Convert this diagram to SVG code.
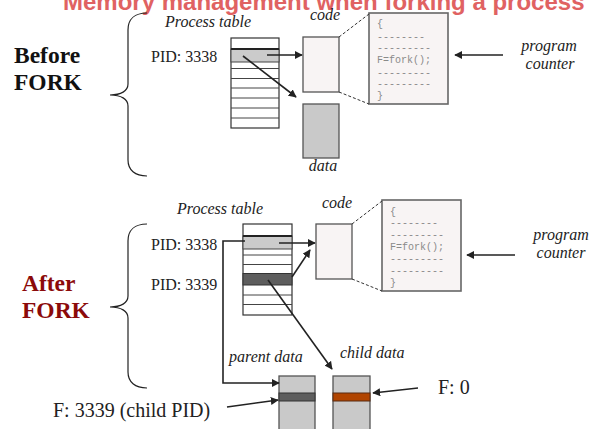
<svg xmlns="http://www.w3.org/2000/svg" width="592" height="429" viewBox="0 0 592 429">
<defs>
<style>
.title{font-family:"Liberation Sans",Arial,sans-serif;font-weight:bold;font-size:24px;fill:#e06262}
.it{font-family:"Liberation Serif","Times New Roman",serif;font-style:italic;font-size:16px;fill:#222}
.pid{font-family:"Liberation Serif","Times New Roman",serif;font-size:16px;fill:#222}
.big{font-family:"Liberation Serif","Times New Roman",serif;font-weight:bold;font-size:23.5px}
.fv{font-family:"Liberation Serif","Times New Roman",serif;font-size:20px;fill:#222}
.code{font-family:"Liberation Mono","Courier New",monospace;font-size:10px;fill:#8a8a8a}
.brace{fill:none;stroke:#222;stroke-width:1.2}
.tbl{fill:#fff;stroke:#333;stroke-width:1.2}
.row{stroke:#444;stroke-width:1}
.lite{fill:#cbcbcb;stroke:#444;stroke-width:1}
.dark{fill:#5e5e5e;stroke:#333;stroke-width:1}
.codebox{fill:#f8f4f4;stroke:#555;stroke-width:1.3}
.list{fill:#f8f4f4;stroke:#666;stroke-width:1.6}
.databox{fill:#c9c9c9;stroke:#555;stroke-width:1.3}
.dash{stroke:#333;stroke-width:1;stroke-dasharray:3 2;fill:none}
.arr{stroke:#222;stroke-width:1.6;fill:none;marker-end:url(#ah)}
.ln{stroke:#222;stroke-width:1.6;fill:none}
</style>
<marker id="ah" viewBox="0 0 10 10" refX="9" refY="5" markerWidth="5" markerHeight="5" orient="auto" markerUnits="strokeWidth">
<path d="M0,0 L10,5 L0,10 z" fill="#222"/>
</marker>
</defs>

<text class="title" x="63" y="10">Memory management when forking a process</text>

<!-- BEFORE section -->
<g id="before-label">
<text class="big" x="14" y="63" fill="#111">Before</text>
<text class="big" x="14" y="90" fill="#111">FORK</text>
<path class="brace" d="M147,13 C135,13 128,19 128,30 L128,84 C128,91 121,95 110,95 C121,95 128,99 128,106 L128,160 C128,170 135,176 147,176"/>
</g>

<g id="before-table">
<text class="it" x="208" y="27" text-anchor="middle">Process table</text>
<text class="pid" x="151" y="62">PID: 3338</text>
<rect class="tbl" x="231" y="38" width="48" height="90"/>
<rect class="lite" x="231" y="49" width="48" height="13"/>
<line x1="231" y1="49" x2="279" y2="49" stroke="#222" stroke-width="2"/>
<line class="row" x1="231" y1="68.5" x2="279" y2="68.5"/>
<line class="row" x1="231" y1="78.5" x2="279" y2="78.5"/>
<line class="row" x1="231" y1="88" x2="279" y2="88"/>
<line class="row" x1="231" y1="98" x2="279" y2="98"/>
<line class="row" x1="231" y1="108" x2="279" y2="108"/>
<line class="row" x1="231" y1="118" x2="279" y2="118"/>
</g>

<g id="before-code">
<text class="it" x="325" y="20" text-anchor="middle">code</text>
<rect class="codebox" x="303" y="37" width="36" height="55"/>
</g>

<g id="before-data">
<rect class="databox" x="303" y="104" width="36" height="54"/>
<text class="it" x="323" y="171" text-anchor="middle">data</text>
</g>

<g id="before-listing">
<rect class="list" x="369" y="13" width="79" height="91"/>
<text class="code" x="377" y="27">{</text>
<text class="code" x="377" y="40">--------</text>
<text class="code" x="377" y="51">---------</text>
<text class="code" x="377" y="63">F=fork();</text>
<text class="code" x="377" y="76">---------</text>
<text class="code" x="377" y="87">---------</text>
<text class="code" x="377" y="99">}</text>
</g>

<g id="before-pc">
<text class="it" x="549" y="51" text-anchor="middle" font-size="15.5">program</text>
<text class="it" x="550" y="69" text-anchor="middle" font-size="15.5">counter</text>
</g>

<!-- AFTER section -->
<g id="after-label">
<text class="big" x="22" y="291" fill="#8b0a0a">After</text>
<text class="big" x="22" y="318" fill="#8b0a0a">FORK</text>
<path class="brace" d="M147,224 C135,224 128,230 128,241 L128,296 C128,303 121,307 110,307 C121,307 128,311 128,318 L128,372 C128,382 135,388 147,388"/>
</g>

<g id="after-table">
<text class="it" x="220" y="214" text-anchor="middle">Process table</text>
<text class="pid" x="151" y="250">PID: 3338</text>
<text class="pid" x="151" y="290">PID: 3339</text>
<rect class="tbl" x="243" y="224" width="49" height="91"/>
<rect class="lite" x="243" y="236" width="49" height="13"/>
<line x1="243" y1="236" x2="292" y2="236" stroke="#222" stroke-width="2"/>
<line class="row" x1="243" y1="255" x2="292" y2="255"/>
<line class="row" x1="243" y1="264.5" x2="292" y2="264.5"/>
<rect class="dark" x="243" y="273.5" width="49" height="11.5"/>
<line class="row" x1="243" y1="295" x2="292" y2="295"/>
<line class="row" x1="243" y1="304.5" x2="292" y2="304.5"/>
</g>

<g id="after-code">
<text class="it" x="337" y="208" text-anchor="middle">code</text>
<rect class="codebox" x="316" y="224" width="36" height="55"/>
</g>

<g id="after-listing">
<rect class="list" x="382" y="200" width="79" height="91"/>
<text class="code" x="390" y="215">{</text>
<text class="code" x="390" y="226">--------</text>
<text class="code" x="390" y="238">---------</text>
<text class="code" x="390" y="250">F=fork();</text>
<text class="code" x="390" y="262">---------</text>
<text class="code" x="390" y="274">---------</text>
<text class="code" x="390" y="286">}</text>
</g>

<g id="after-pc">
<text class="it" x="561" y="240" text-anchor="middle" font-size="15.5">program</text>
<text class="it" x="561" y="258" text-anchor="middle" font-size="15.5">counter</text>
</g>

<g id="parent-data">
<text class="it" x="229" y="362">parent data</text>
<rect class="databox" x="279" y="376" width="36" height="60"/>
<rect class="dark" x="279" y="393" width="36" height="8"/>
</g>

<g id="child-data">
<text class="it" x="340" y="358">child data</text>
<rect class="databox" x="333" y="376" width="37" height="60"/>
<rect x="333" y="393" width="37" height="8" fill="#b04400" stroke="#5a2a10" stroke-width="1"/>
</g>

<g id="f-child">
<text class="fv" x="53" y="417">F: 3339 (child PID)</text>
</g>
<g id="f-zero">
<text class="fv" x="438" y="394">F: 0</text>
</g>

<!-- connectors -->
<g id="connectors">
<line class="arr" x1="267" y1="55" x2="302" y2="55"/>
<line class="arr" x1="243" y1="56" x2="296" y2="97"/>
<line class="dash" x1="339" y1="37" x2="369" y2="14"/>
<line class="dash" x1="339" y1="92" x2="369" y2="104"/>
<line class="arr" x1="503" y1="55" x2="455" y2="55"/>

<line class="arr" x1="279" y1="243" x2="315" y2="243"/>
<line class="arr" x1="292" y1="277" x2="310" y2="250"/>
<line class="arr" x1="268" y1="280" x2="332" y2="369"/>
<polyline class="arr" points="245,241 223,241 223,383 279,383"/>
<line class="dash" x1="352" y1="224" x2="382" y2="201"/>
<line class="dash" x1="352" y1="279" x2="382" y2="291"/>
<line class="arr" x1="515" y1="255" x2="467" y2="255"/>
<line class="arr" x1="227" y1="407" x2="278" y2="400"/>
<line class="arr" x1="418" y1="388" x2="373" y2="393"/>
</g>
</svg>
